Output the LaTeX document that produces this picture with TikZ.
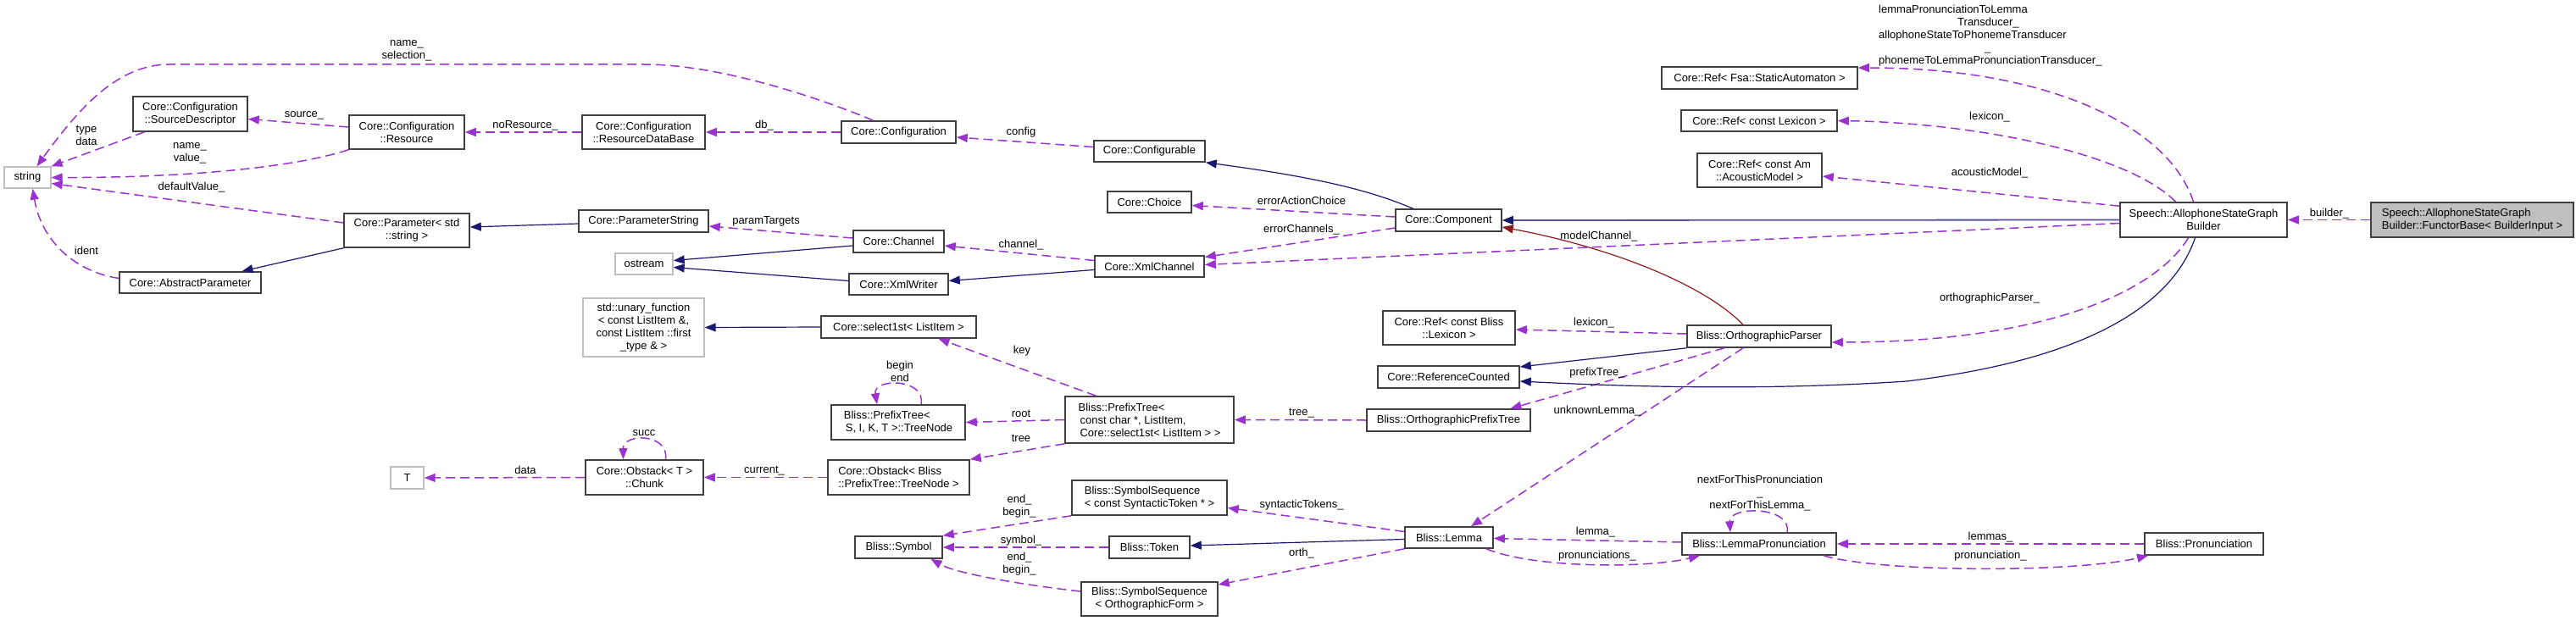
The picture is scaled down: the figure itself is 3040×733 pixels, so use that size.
\documentclass[tikz,border=0pt]{standalone}
\usepackage{fontspec}
\setmainfont{Liberation Sans}
\usepackage{tikz}
\usepackage{xcolor}
\usetikzlibrary{calc,arrows.meta,positioning}
\definecolor{edgePurple}{RGB}{154,50,205}
\definecolor{edgeNavy}{RGB}{25,25,112}
\definecolor{edgeSlate}{RGB}{80,80,150}
\definecolor{edgeRed}{RGB}{139,26,26}
\definecolor{boxGrey}{RGB}{191,191,191}
\definecolor{boxLine}{RGB}{64,64,64}
\newcommand{\DoxFont}{\fontsize{13}{15}\selectfont}
\newcommand{\ClassBox}[7][]{%
\node[classbox,minimum width={(#5-#3)*1pt},minimum height={(#6-#4)*1pt},#1] (#2) at ({(#3+#5)/2},{(#4+#6)/2}) {#7};}
\tikzset{
  classbox/.style={draw=boxLine,fill=white,line width=1.6pt,inner sep=2pt,align=center,font=\DoxFont},
  extbox/.style={draw=boxGrey,line width=1.4pt},
  rootbox/.style={fill=boxGrey},
  lbl/.style={font=\DoxFont,align=center,inner sep=0pt},
  uses/.style={draw=edgePurple,dash pattern=on 11pt off 6pt,line width=1.5pt,-{Triangle[length=13pt,width=10pt]}},
  isa/.style={draw=edgeNavy,line width=1.2pt,-{Triangle[length=13pt,width=10pt,color=edgeNavy]}},
  prot/.style={draw=edgeRed,line width=1.2pt,-{Triangle[length=13pt,width=10pt]}}
}
\begin{document}
\begin{tikzpicture}[x=1pt,y=-1pt]
\useasboundingbox (0,0) rectangle (3040,733);
\ClassBox[extbox]{str}{5}{197}{60}{222}{string}
\ClassBox{srcdesc}{157}{114}{292}{155}{Core::Configuration\\::SourceDescriptor}
\ClassBox{res}{412}{136}{548}{176}{Core::Configuration\\::Resource}
\ClassBox{resdb}{687}{136}{832}{176}{Core::Configuration\\::ResourceDataBase}
\ClassBox{config}{993}{143}{1128}{169}{Core::Configuration}
\ClassBox{configurable}{1291}{166}{1422}{191}{Core::Configurable}
\ClassBox{choice}{1307}{226}{1406}{251}{Core::Choice}
\ClassBox{component}{1647}{247}{1772}{273}{Core::Component}
\ClassBox{param}{406}{252}{554}{292}{Core::Parameter< std\\::string >}
\ClassBox{absparam}{141}{321}{308}{346}{Core::AbstractParameter}
\ClassBox{paramstr}{683}{248}{836}{274}{Core::ParameterString}
\ClassBox{channel}{1007}{272}{1114}{298}{Core::Channel}
\ClassBox[extbox]{ostream}{726}{299}{794}{324}{ostream}
\ClassBox{xmlwriter}{1002}{323}{1119}{348}{Core::XmlWriter}
\ClassBox{xmlchannel}{1292}{302}{1421}{327}{Core::XmlChannel}
\ClassBox[extbox]{unary}{688}{352}{831}{421}{std::unary\_function\\< const ListItem \&,\\ const ListItem ::first\\\_type \& >}
\ClassBox{select}{969}{373}{1152}{399}{Core::select1st< ListItem >}
\ClassBox[align=left]{treenode}{981}{478}{1139}{519}{Bliss::PrefixTree<\\\hspace*{2pt}S, I, K, T >::TreeNode}
\ClassBox[align=left]{prefixtree}{1257}{468}{1456}{523}{Bliss::PrefixTree<\\\hspace*{2pt}const char *, ListItem,\\\hspace*{2pt}Core::select1st< ListItem > >}
\ClassBox{chunk}{691}{543}{830}{584}{Core::Obstack< T >\\::Chunk}
\ClassBox[extbox]{tparam}{461}{551}{500}{577}{T}
\ClassBox[align=left]{obstack}{977}{543}{1144}{584}{Core::Obstack< Bliss\\::PrefixTree::TreeNode >}
\ClassBox[align=left]{symseqtok}{1265}{567}{1448}{608}{Bliss::SymbolSequence\\< const SyntacticToken * >}
\ClassBox{symbol}{1009}{633}{1112}{659}{Bliss::Symbol}
\ClassBox{token}{1309}{633}{1404}{659}{Bliss::Token}
\ClassBox{symseqorth}{1276}{687}{1437}{727}{Bliss::SymbolSequence\\< OrthographicForm >}
\ClassBox{reffsa}{1961}{79}{2192}{105}{Core::Ref< Fsa::StaticAutomaton >}
\ClassBox{reflex}{1984}{130}{2168}{155}{Core::Ref< const Lexicon >}
\ClassBox{refam}{2003}{181}{2150}{221}{Core::Ref< const Am\\::AcousticModel >}
\ClassBox{refblex}{1632}{367}{1788}{407}{Core::Ref< const Bliss\\::Lexicon >}
\ClassBox{orthparser}{1991}{384}{2161}{410}{Bliss::OrthographicParser}
\ClassBox{refcount}{1626}{432}{1793}{458}{Core::ReferenceCounted}
\ClassBox{orthprefix}{1613}{483}{1806}{509}{Bliss::OrthographicPrefixTree}
\ClassBox{lemma}{1658}{622}{1762}{647}{Bliss::Lemma}
\ClassBox{lemmapron}{1985}{629}{2167}{655}{Bliss::LemmaPronunciation}
\ClassBox{pron}{2531}{629}{2671}{655}{Bliss::Pronunciation}
\ClassBox{builder}{2502}{239}{2699}{280}{Speech::AllophoneStateGraph\\Builder}
\ClassBox[rootbox,align=left]{functor}{2798}{239}{3037}{280}{Speech::AllophoneStateGraph\\Builder::FunctorBase< BuilderInput >}
% members
\draw[uses] ([xshift=-30pt]config.north) .. controls (990,125) and (860,76) .. (760,76) -- (200,76) .. controls (140,76) and (95,125) .. ([xshift=11pt]str.north);
\draw[uses] ([xshift=-54pt]srcdesc.south) -- (str.north east);
\draw[uses] (res.south west) .. controls (340,200) and (200,210) .. (str.east);
\draw[uses] ([yshift=9pt]param.west) -- ([yshift=-7pt]str.east);
\draw[uses] ([yshift=5pt]absparam.west) .. controls (95,322) and (50,290) .. ([xshift=6pt]str.south);
\draw[uses] ([yshift=6pt]res.west) -- ([yshift=-6pt]srcdesc.east);
\draw[uses] (resdb.west) -- (res.east);
\draw[uses] (config.west) -- (resdb.east);
\draw[uses] ([yshift=5pt]configurable.west) -- ([yshift=-6pt]config.east);
\draw[uses] ([yshift=4pt]component.west) -- ([yshift=-4pt]choice.east);
\draw[uses] ([yshift=-9pt]component.west) -- ([yshift=11pt]xmlchannel.east);
\draw[uses] ([yshift=-4pt]builder.west) -- ([yshift=2pt]xmlchannel.east);
\draw[uses] ([yshift=4pt]channel.west) -- ([yshift=-6pt]paramstr.east);
\draw[uses] ([yshift=7pt]xmlchannel.west) -- ([yshift=-5pt]channel.east);
\draw[uses] ([xshift=-12pt]builder.north) .. controls (2560,150) and (2420,80) .. ([yshift=12pt]reffsa.east);
\draw[uses] ([xshift=-33pt]builder.north) .. controls (2510,180) and (2330,145) .. (reflex.east);
\draw[uses] ([yshift=-5pt]builder.north west) -- ([yshift=-7pt]refam.east);
\draw[uses] ([xshift=-18pt]builder.south) .. controls (2540,350) and (2400,404) .. ([yshift=-7pt]orthparser.east);
\draw[uses] (functor.west) -- (builder.east);
\draw[uses] ([yshift=3pt]orthparser.west) -- ([yshift=-2pt]refblex.east);
\draw[uses] ([xshift=-41pt]orthparser.south) -- ([xshift=73pt]orthprefix.north);
\draw[uses] ([xshift=-19pt]orthparser.south) -- ([xshift=26pt]lemma.north);
\draw[uses] (orthprefix.west) -- (prefixtree.east);
\draw[uses] ([xshift=-63pt]prefixtree.north) -- ([xshift=47pt]select.south);
\draw[uses] (prefixtree.west) -- (treenode.east);
\draw[uses] (prefixtree.south west) -- (obstack.north east);
\draw[uses] ([xshift=27pt]treenode.north) .. controls (1093,446) and (1030,446) .. ([xshift=-25pt]treenode.north);
\draw[uses] (obstack.west) -- (chunk.east);
\draw[uses] ([xshift=25pt]chunk.north) .. controls (790,511) and (735,511) .. ([xshift=-25pt]chunk.north);
\draw[uses] (chunk.west) -- (tparam.east);
\draw[uses] (symseqtok.south west) -- (symbol.north east);
\draw[uses] (token.west) -- (symbol.east);
\draw[uses] ([yshift=9pt]symseqorth.west) .. controls (1220,692) and (1130,678) .. ([xshift=38pt]symbol.south);
\draw[uses] ([yshift=7pt]lemma.west) -- ([yshift=-12pt]symseqtok.east);
\draw[uses] (lemma.south west) -- ([yshift=17pt]symseqorth.east);
\draw[uses] ([yshift=2pt]lemmapron.west) -- ([yshift=-1pt]lemma.east);
\draw[uses] ([xshift=44pt]lemma.south) .. controls (1810,671) and (1945,671) .. ([xshift=-70pt]lemmapron.south);
\draw[uses] ([xshift=33pt]lemmapron.north) .. controls (2115,597) and (2040,597) .. ([xshift=-34pt]lemmapron.north);
\draw[uses] (pron.west) -- (lemmapron.east);
\draw[uses] ([xshift=76pt]lemmapron.south) .. controls (2220,676) and (2450,676) .. ([xshift=-66pt]pron.south);
% bases
\draw[isa] (param.south west) -- ([xshift=61pt]absparam.north);
\draw[isa] ([yshift=-3pt]paramstr.west) -- ([yshift=4pt]param.east);
\draw[isa] ([yshift=-5pt]channel.west) -- ([yshift=4pt]ostream.east);
\draw[isa] ([yshift=4pt]xmlwriter.west) -- ([yshift=-4pt]ostream.east);
\draw[isa] ([yshift=-4pt]xmlchannel.west) -- ([yshift=4pt]xmlwriter.east);
\draw[isa] ([xshift=-42pt]component.north) .. controls (1620,226) and (1560,210) .. (configurable.south east);
\draw[isa,draw=edgeSlate,line width=1.8pt] (builder.west) -- (component.east);
\draw[isa] (orthparser.south west) -- ([yshift=12pt]refcount.east);
\draw[isa] ([xshift=-10pt]builder.south) .. controls (2570,340) and (2500,420) .. (2250,450) .. controls (2100,460) and (1950,458) .. ([yshift=-5pt]refcount.east);
\draw[isa] ([yshift=-2pt]lemma.west) -- ([yshift=2pt]token.east);
\draw[isa] (select.west) -- (unary.east);
\draw[prot] ([xshift=-19pt]orthparser.north) .. controls (2010,335) and (1900,292) .. ([yshift=-8pt]component.east);
% labels
\node[lbl] (l-selection) at (480,60) {name\_\\selection\_};
\node[lbl] (l-typedata) at (102,160) {type\\data};
\node[lbl] (l-namevalue) at (224,181) {name\_\\value\_};
\node[lbl] (l-default) at (226,221) {defaultValue\_};
\node[lbl] (l-ident) at (102,296) {ident};
\node[lbl] (l-source) at (359,136) {source\_};
\node[lbl] (l-nores) at (620,148) {noResource\_};
\node[lbl] (l-db) at (902,148) {db\_};
\node[lbl] (l-config) at (1205,156) {config};
\node[lbl] (l-errchoice) at (1536,237) {errorActionChoice};
\node[lbl] (l-errchan) at (1536,271) {errorChannels\_};
\node[lbl] (l-modelchan) at (1887,279) {modelChannel\_};
\node[lbl] (l-targets) at (904,261) {paramTargets};
\node[lbl] (l-channel) at (1205,289) {channel\_};
\node[lbl] (l-key) at (1206,414) {key};
\node[lbl] (l-beginend) at (1062,438) {begin\\end};
\node[lbl] (l-root) at (1205,488) {root};
\node[lbl] (l-tree) at (1205,517) {tree};
\node[lbl] (l-succ) at (760,511) {succ};
\node[lbl] (l-current) at (902,556) {current\_};
\node[lbl] (l-data) at (620,555) {data};
\node[lbl] (l-endbegin) at (1203,598) {end\_\\begin\_};
\node[lbl] (l-symbol) at (1205,638) {symbol\_};
\node[lbl] (l-endbegin2) at (1203,666) {end\_\\begin\_};
\node[lbl] (l-syntok) at (1536,596) {syntacticTokens\_};
\node[lbl] (l-orth) at (1536,653) {orth\_};
\node[lbl] (l-lemma) at (1883,628) {lemma\_};
\node[lbl] (l-prons) at (1885,656) {pronunciations\_};
\node[lbl] (l-next) at (2077,582) {nextForThisPronunciation\\\_\\nextForThisLemma\_};
\node[lbl] (l-blex) at (1881,381) {lexicon\_};
\node[lbl] (l-prefix) at (1885,440) {prefixTree\_};
\node[lbl] (l-unknown) at (1885,485) {unknownLemma\_};
\node[lbl] (l-tree2) at (1536,488) {tree\_};
\node[lbl] (l-lemmas) at (2349,634) {lemmas\_};
\node[lbl] (l-pron) at (2349,656) {pronunciation\_};
\node[lbl,align=left,anchor=west] (l-transducers) at (2217,42) {lemmaPronunciationToLemma\\\hspace*{93pt}Transducer\_\\allophoneStateToPhonemeTransducer\\\hspace*{125pt}\_\\phonemeToLemmaPronunciationTransducer\_};
\node[lbl] (l-lexicon) at (2348,138) {lexicon\_};
\node[lbl] (l-acoustic) at (2348,204) {acousticModel\_};
\node[lbl] (l-orthparser) at (2348,352) {orthographicParser\_};
\node[lbl] (l-builder) at (2749,252) {builder\_};
\end{tikzpicture}
\end{document}
